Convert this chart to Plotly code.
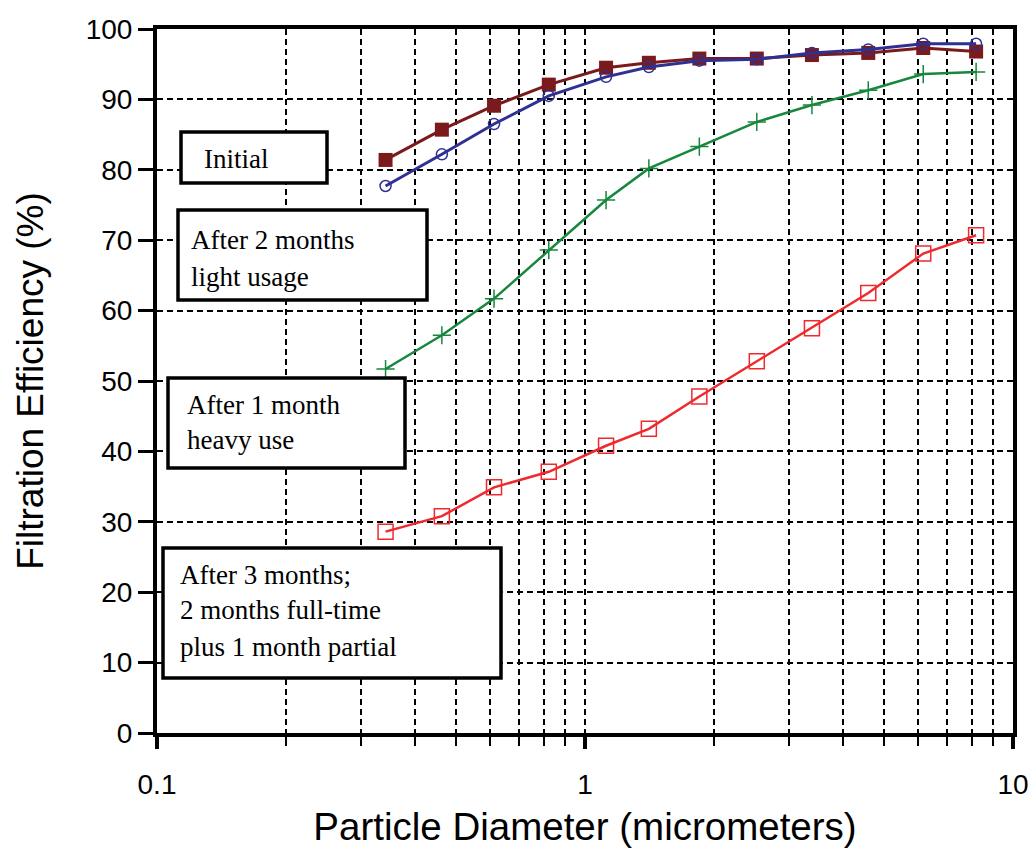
import plotly.graph_objects as go

# ---- data ----
diameter_um = [0.342, 0.463, 0.613, 0.823, 1.12, 1.41, 1.85, 2.52, 3.39, 4.59, 6.17, 8.2]
eff_initial = [81.4, 85.7, 89.1, 92.1, 94.5, 95.2, 95.8, 95.8, 96.3, 96.6, 97.3, 96.8]
eff_2mo_light = [77.7, 82.2, 86.5, 90.5, 93.2, 94.6, 95.5, 95.7, 96.6, 97.1, 97.9, 97.9]
eff_1mo_heavy = [51.7, 56.5, 61.7, 68.6, 75.7, 80.2, 83.3, 86.8, 89.2, 91.3, 93.6, 93.9]
eff_3mo = [28.6, 30.8, 34.9, 37.1, 40.8, 43.2, 47.8, 52.8, 57.5, 62.5, 68.1, 70.7]

x_major = [0.1, 1, 10]
x_major_labels = ["0.1", "1", "10"]
x_minor = [0.2, 0.3, 0.4, 0.5, 0.6, 0.7, 0.8, 0.9, 2, 3, 4, 5, 6, 7, 8, 9]
y_ticks = [0, 10, 20, 30, 40, 50, 60, 70, 80, 90, 100]

box_lines = [
    ["Initial"],
    ["After 2 months", "light usage"],
    ["After 1 month", "heavy use"],
    ["After 3 months;", "2 months full-time", "plus 1 month partial"],
]

# ---- layout geometry (pixels) ----
W, H = 1034, 848
L, R, T, B = 157, 1013, 29, 733

def px(x):
    return (x - L) / (R - L)

def py(y):
    return (B - y) / (B - T)

fig = go.Figure()

fig.add_trace(go.Scatter(
    x=diameter_um, y=eff_initial, mode="lines+markers", name="Initial",
    line=dict(color="#7B1A1C", width=3),
    marker=dict(symbol="square", size=14, color="#7B1A1C"),
))
fig.add_trace(go.Scatter(
    x=diameter_um, y=eff_2mo_light, mode="lines+markers", name="After 2 months light usage",
    line=dict(color="#2E3192", width=3),
    marker=dict(symbol="circle-open", size=11, color="#2E3192", line=dict(width=1.5)),
))
fig.add_trace(go.Scatter(
    x=diameter_um, y=eff_1mo_heavy, mode="lines+markers", name="After 1 month heavy use",
    line=dict(color="#17873D", width=2.5),
    marker=dict(symbol="cross-thin", size=13, color="#17873D",
                line=dict(width=1.5, color="#17873D")),
))
fig.add_trace(go.Scatter(
    x=diameter_um, y=eff_3mo, mode="lines+markers", name="After 3 months",
    line=dict(color="#EE2A2E", width=2.5),
    marker=dict(symbol="square-open", size=15, color="#EE2A2E", line=dict(width=1.5)),
))

# ---- label boxes ----
boxes = [
    # (x0, y0, x1, y1, text_left, [line centre y ...])
    (181, 132, 327, 183, 202, [159]),
    (178, 210, 427, 300, 189, [240, 277]),
    (168, 378, 405, 468, 185, [405, 440]),
    (163, 548, 501, 678, 178, [575, 610, 647]),
]
shapes = []
annotations = []
for (x0, y0, x1, y1, tx, tys), lines in zip(boxes, box_lines):
    shapes.append(dict(type="rect", xref="paper", yref="paper",
                       x0=px(x0), x1=px(x1), y0=py(y1), y1=py(y0),
                       line=dict(color="black", width=3.5), fillcolor="white",
                       layer="above"))
    for ty, txt in zip(tys, lines):
        annotations.append(dict(xref="paper", yref="paper", x=px(tx), y=py(ty),
                                xanchor="left", yanchor="middle", align="left",
                                text=txt, showarrow=False,
                                font=dict(family="Liberation Serif", size=27, color="black")))

fig.update_layout(
    width=W, height=H,
    margin=dict(l=L, r=W - R, t=T, b=H - B, autoexpand=False),
    paper_bgcolor="white", plot_bgcolor="white",
    showlegend=False,
    shapes=shapes,
    annotations=annotations,
    font=dict(family="Liberation Sans", color="black"),
)

grid_dash = "6px,4px"
fig.update_xaxes(
    type="log", range=[-1, 1],
    tickmode="array", tickvals=x_major, ticktext=x_major_labels,
    tickfont=dict(size=28, family="Liberation Sans"),
    ticks="outside", ticklen=12, tickwidth=4, tickcolor="black",
    ticklabelstandoff=11,
    showgrid=True, gridcolor="black", gridwidth=1.5, griddash=grid_dash,
    minor=dict(tickmode="array", tickvals=x_minor, ticks="outside", ticklen=9,
               tickwidth=1.5, tickcolor="black", showgrid=True,
               gridcolor="black", gridwidth=1.5, griddash=grid_dash),
    showline=True, linecolor="black", linewidth=4, mirror=True,
    zeroline=False,
    title=dict(text="Particle Diameter (micrometers)",
               font=dict(size=38.5, family="Liberation Sans"), standoff=18),
)
fig.update_yaxes(
    range=[0, 100],
    tickmode="array", tickvals=y_ticks,
    tickfont=dict(size=28, family="Liberation Sans"),
    ticks="outside", ticklen=15, tickwidth=3, tickcolor="black",
    showgrid=True, gridcolor="black", gridwidth=1.5, griddash=grid_dash,
    showline=True, linecolor="black", linewidth=4, mirror=True,
    zeroline=False,
    title=dict(text="Filtration Efficiency (%)",
               font=dict(size=37, family="Liberation Sans"), standoff=32),
)

fig.write_html("out.html")
